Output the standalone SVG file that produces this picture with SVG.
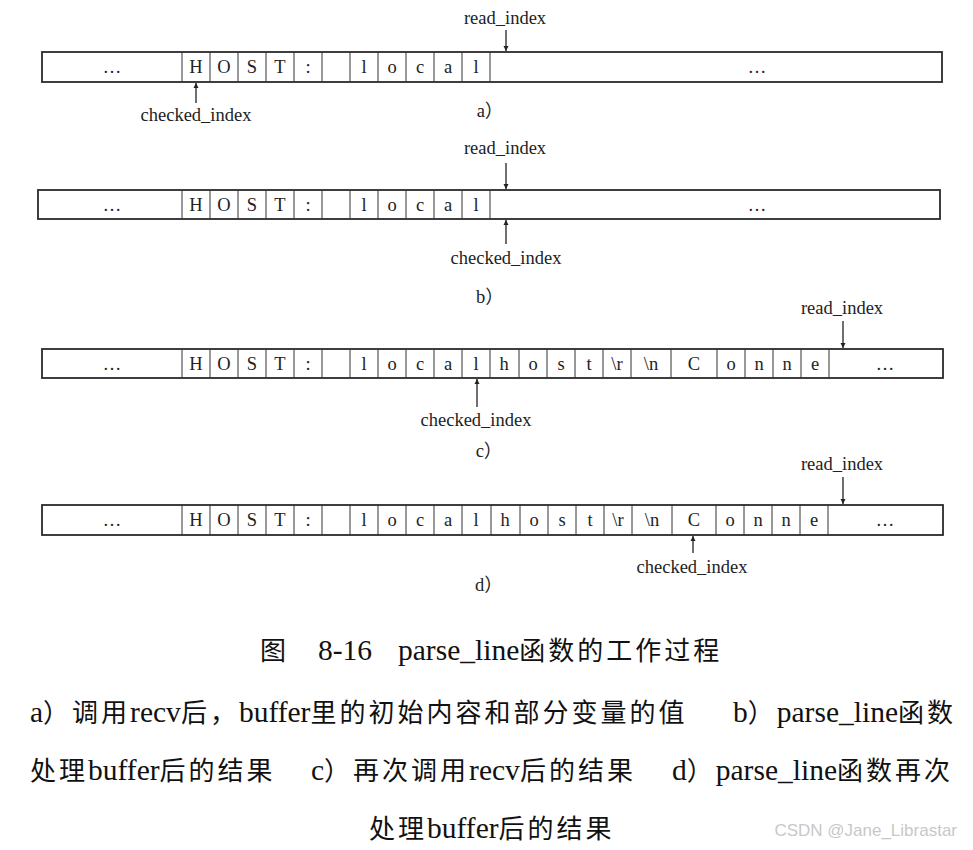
<svg xmlns="http://www.w3.org/2000/svg" width="973" height="850" viewBox="0 0 973 850">
<style>
.box{fill:#fff;stroke:#2a2a2a;stroke-width:1.8}
.div{stroke:#333;stroke-width:1}
.c{font-family:"Liberation Serif","Noto Sans CJK SC",serif;font-size:18.5px;fill:#222;text-anchor:middle}
.lbl{font-family:"Liberation Serif","Noto Sans CJK SC",serif;font-size:18.5px;fill:#222;text-anchor:middle}
.cap{font-family:"Liberation Serif","Noto Sans CJK SC",serif;font-size:29.5px;fill:#111}
.k{font-family:"Noto Sans CJK SC",serif;font-size:26px;letter-spacing:3px}
.arr{stroke:#222;stroke-width:1.3;fill:none;marker-end:url(#ah)}
.wm{font-family:"Liberation Sans",sans-serif;font-size:17px;fill:#c8c8c8}
</style>
<defs>
<marker id="ah" viewBox="0 0 10 10" refX="10" refY="5" markerWidth="5" markerHeight="7" orient="auto" markerUnits="userSpaceOnUse">
<path d="M0,0 L10,5 L0,10 z" fill="#222"/>
</marker>
</defs>
<rect width="973" height="850" fill="#fff"/>

<!-- Row a -->
<g id="buffer-a">
<rect class="box" x="42" y="52" width="900" height="30"/>
<path class="div" d="M182,52V82M210,52V82M238,52V82M266,52V82M294,52V82M322,52V82M350,52V82M378,52V82M406,52V82M434,52V82M462,52V82M490,52V82"/>
<text class="c" y="73"><tspan x="112">…</tspan><tspan x="196">H</tspan><tspan x="224">O</tspan><tspan x="252">S</tspan><tspan x="280">T</tspan><tspan x="308">:</tspan><tspan x="364">l</tspan><tspan x="392">o</tspan><tspan x="420">c</tspan><tspan x="448">a</tspan><tspan x="476">l</tspan><tspan x="757">…</tspan></text>
<text class="lbl" x="505" y="24">read_index</text>
<text class="lbl" x="196" y="121">checked_index</text>
<text class="lbl" x="490" y="117">a）</text>
</g>

<!-- Row b -->
<g id="buffer-b">
<rect class="box" x="38" y="190" width="902" height="29"/>
<path class="div" d="M182,190V219M210,190V219M238,190V219M266,190V219M294,190V219M322,190V219M350,190V219M378,190V219M406,190V219M434,190V219M462,190V219M490,190V219"/>
<text class="c" y="211"><tspan x="112">…</tspan><tspan x="196">H</tspan><tspan x="224">O</tspan><tspan x="252">S</tspan><tspan x="280">T</tspan><tspan x="308">:</tspan><tspan x="364">l</tspan><tspan x="392">o</tspan><tspan x="420">c</tspan><tspan x="448">a</tspan><tspan x="476">l</tspan><tspan x="757">…</tspan></text>
<text class="lbl" x="505" y="154">read_index</text>
<text class="lbl" x="506" y="264">checked_index</text>
<text class="lbl" x="490" y="303">b）</text>
</g>

<!-- Row c -->
<g id="buffer-c">
<rect class="box" x="42" y="349" width="901" height="29"/>
<path class="div" d="M182,349V378M210,349V378M238,349V378M266,349V378M294,349V378M322,349V378M350,349V378M378,349V378M406,349V378M434,349V378M462,349V378M490,349V378M519,349V378M547,349V378M575,349V378M603,349V378M631,349V378M671,349V378M717,349V378M745,349V378M773,349V378M801,349V378M829,349V378"/>
<text class="c" y="370"><tspan x="112">…</tspan><tspan x="196">H</tspan><tspan x="224">O</tspan><tspan x="252">S</tspan><tspan x="280">T</tspan><tspan x="308">:</tspan><tspan x="364">l</tspan><tspan x="392">o</tspan><tspan x="420">c</tspan><tspan x="448">a</tspan><tspan x="476">l</tspan><tspan x="504">h</tspan><tspan x="533">o</tspan><tspan x="561">s</tspan><tspan x="589">t</tspan><tspan x="617">\r</tspan><tspan x="651">\n</tspan><tspan x="694">C</tspan><tspan x="731">o</tspan><tspan x="759">n</tspan><tspan x="787">n</tspan><tspan x="815">e</tspan><tspan x="885">…</tspan></text>
<text class="lbl" x="842" y="314">read_index</text>
<text class="lbl" x="476" y="426">checked_index</text>
<text class="lbl" x="489" y="457">c）</text>
</g>

<!-- Row d -->
<g id="buffer-d">
<rect class="box" x="42" y="505" width="901" height="30"/>
<path class="div" d="M182,505V535M210,505V535M238,505V535M266,505V535M294,505V535M322,505V535M350,505V535M378,505V535M406,505V535M434,505V535M462,505V535M491,505V535M520,505V535M548,505V535M576,505V535M604,505V535M632,505V535M672,505V535M716,505V535M744,505V535M772,505V535M800,505V535M828,505V535"/>
<text class="c" y="526"><tspan x="112">…</tspan><tspan x="196">H</tspan><tspan x="224">O</tspan><tspan x="252">S</tspan><tspan x="280">T</tspan><tspan x="308">:</tspan><tspan x="364">l</tspan><tspan x="392">o</tspan><tspan x="420">c</tspan><tspan x="448">a</tspan><tspan x="476">l</tspan><tspan x="505">h</tspan><tspan x="534">o</tspan><tspan x="562">s</tspan><tspan x="590">t</tspan><tspan x="618">\r</tspan><tspan x="652">\n</tspan><tspan x="694">C</tspan><tspan x="730">o</tspan><tspan x="758">n</tspan><tspan x="786">n</tspan><tspan x="814">e</tspan><tspan x="885">…</tspan></text>
<text class="lbl" x="842" y="470">read_index</text>
<text class="lbl" x="692" y="573">checked_index</text>
<text class="lbl" x="489" y="591">d）</text>
</g>

<g id="connectors">
<line class="arr" x1="506" y1="30" x2="506" y2="51"/>
<line class="arr" x1="196" y1="103" x2="196" y2="83"/>
<line class="arr" x1="506" y1="163" x2="506" y2="189"/>
<line class="arr" x1="506" y1="244" x2="506" y2="220"/>
<line class="arr" x1="843" y1="321" x2="843" y2="348"/>
<line class="arr" x1="477" y1="407" x2="477" y2="379"/>
<line class="arr" x1="843" y1="477" x2="843" y2="504"/>
<line class="arr" x1="693" y1="553" x2="693" y2="536"/>
</g>

<g id="caption">
<text class="cap" y="660"><tspan x="260" class="k">图</tspan><tspan x="318">8-16</tspan><tspan x="398">parse_line</tspan><tspan class="k">函数的工作过程</tspan></text>
<text class="cap" y="722" x="30">a<tspan class="k">）调用</tspan>recv<tspan class="k">后，</tspan>buffer<tspan class="k">里的初始内容和部分变量的值</tspan></text>
<text class="cap" y="722" x="733">b<tspan class="k">）</tspan>parse_line<tspan class="k">函数</tspan></text>
<text class="cap" y="780" x="30"><tspan class="k">处理</tspan>buffer<tspan class="k">后的结果</tspan></text>
<text class="cap" y="780" x="311">c<tspan class="k">）再次调用</tspan>recv<tspan class="k">后的结果</tspan></text>
<text class="cap" y="780" x="672">d<tspan class="k">）</tspan>parse_line<tspan class="k">函数再次</tspan></text>
<text class="cap" y="838" x="369"><tspan class="k">处理</tspan>buffer<tspan class="k">后的结果</tspan></text>
</g>
<text class="wm" x="957" y="836" text-anchor="end">CSDN @Jane_Librastar</text>
</svg>
